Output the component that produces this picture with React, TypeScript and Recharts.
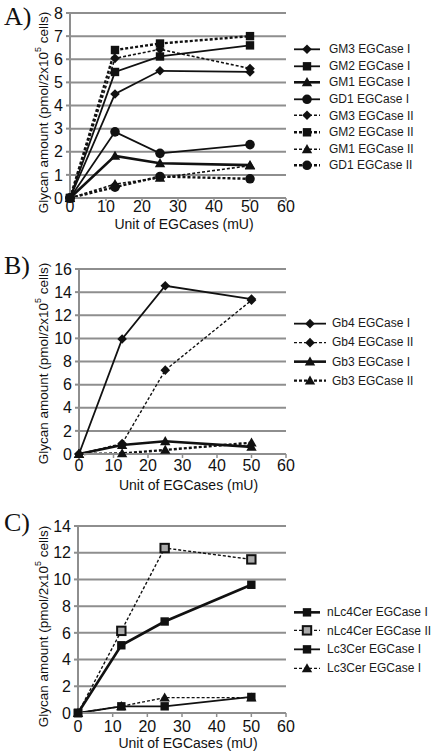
import React from 'react';
import { LineChart, Line, XAxis, YAxis, CartesianGrid, Label } from 'recharts';

// ---------- data ----------
const xUnits = [0, 12.5, 25, 50];
const xTicks = [0, 10, 20, 30, 40, 50, 60];

// Panel A (gangliosides)
const gm3I = [0, 4.5, 5.5, 5.45];
const gm2I = [0, 5.45, 6.12, 6.6];
const gm1I = [0, 1.82, 1.5, 1.42];
const gd1I = [0, 2.86, 1.93, 2.31];
const gm3II = [0, 6.04, 6.43, 5.6];
const gm2II = [0, 6.4, 6.68, 7.0];
const gm1II = [0, 0.6, 0.87, 1.4];
const gd1II = [0, 0.47, 0.93, 0.83];
const yTicksA = [0, 1, 2, 3, 4, 5, 6, 7, 8];

// Panel B (globo-series)
const gb4I = [0, 9.95, 14.55, 13.4];
const gb4II = [0, 0.9, 7.25, 13.3];
const gb3I = [0, 0.78, 1.1, 0.62];
const gb3II = [0, 0.05, 0.35, 0.98];
const yTicksB = [0, 2, 4, 6, 8, 10, 12, 14, 16];

// Panel C (lacto-series)
const nlc4I = [0, 5.07, 6.85, 9.6];
const nlc4II = [0, 6.15, 12.35, 11.5];
const lc3I = [0, 0.5, 0.5, 1.2];
const lc3II = [0, 0.5, 1.15, 1.15];
const yTicksC = [0, 2, 4, 6, 8, 10, 12, 14];

const xLabel = 'Unit of EGCases (mU)';

type Series = {
  key: string;
  name: string;
  values: number[];
  shape: 'diamond' | 'square' | 'triangle' | 'circle';
  dashed: boolean;
  width: number;
  hollow?: boolean;
};

const seriesA: Series[] = [
  { key: 'gm3I', name: 'GM3 EGCase I', values: gm3I, shape: 'diamond', dashed: false, width: 1.8 },
  { key: 'gm2I', name: 'GM2 EGCase I', values: gm2I, shape: 'square', dashed: false, width: 1.8 },
  { key: 'gm1I', name: 'GM1 EGCase I', values: gm1I, shape: 'triangle', dashed: false, width: 2.6 },
  { key: 'gd1I', name: 'GD1 EGCase I', values: gd1I, shape: 'circle', dashed: false, width: 1.8 },
  { key: 'gm3II', name: 'GM3 EGCase II', values: gm3II, shape: 'diamond', dashed: true, width: 1.6 },
  { key: 'gm2II', name: 'GM2 EGCase II', values: gm2II, shape: 'square', dashed: true, width: 2.4 },
  { key: 'gm1II', name: 'GM1 EGCase II', values: gm1II, shape: 'triangle', dashed: true, width: 1.6 },
  { key: 'gd1II', name: 'GD1 EGCase II', values: gd1II, shape: 'circle', dashed: true, width: 2.4 },
];

const seriesB: Series[] = [
  { key: 'gb4I', name: 'Gb4 EGCase I', values: gb4I, shape: 'diamond', dashed: false, width: 1.8 },
  { key: 'gb4II', name: 'Gb4 EGCase II', values: gb4II, shape: 'diamond', dashed: true, width: 1.4 },
  { key: 'gb3I', name: 'Gb3 EGCase I', values: gb3I, shape: 'triangle', dashed: false, width: 2.6 },
  { key: 'gb3II', name: 'Gb3 EGCase II', values: gb3II, shape: 'triangle', dashed: true, width: 2.4 },
];

const seriesC: Series[] = [
  { key: 'nlc4I', name: 'nLc4Cer EGCase I', values: nlc4I, shape: 'square', dashed: false, width: 2.6 },
  { key: 'nlc4II', name: 'nLc4Cer EGCase II', values: nlc4II, shape: 'square', dashed: true, width: 1.4, hollow: true },
  { key: 'lc3I', name: 'Lc3Cer EGCase I', values: lc3I, shape: 'square', dashed: false, width: 1.8 },
  { key: 'lc3II', name: 'Lc3Cer EGCase I', values: lc3II, shape: 'triangle', dashed: true, width: 1.4 },
];

const buildRows = (series: Series[]) =>
  xUnits.map((x, i) => {
    const row: Record<string, number> = { x };
    series.forEach((s) => {
      row[s.key] = s.values[i];
    });
    return row;
  });

// ---------- drawing helpers ----------
const INK = '#111';
const GRID = '#8e8e8e';
const FONT = '"Liberation Sans", Arial, sans-serif';

function Marker({ cx, cy, shape, hollow }: { cx: number; cy: number; shape: string; hollow?: boolean }) {
  if (cx == null || cy == null) return null;
  if (shape === 'diamond') {
    const r = 4.8;
    return <polygon points={`${cx},${cy - r} ${cx + r},${cy} ${cx},${cy + r} ${cx - r},${cy}`} fill={INK} />;
  }
  if (shape === 'square') {
    const s = 4.2;
    return (
      <rect
        x={cx - s}
        y={cy - s}
        width={2 * s}
        height={2 * s}
        fill={hollow ? '#aaa' : INK}
        stroke={INK}
        strokeWidth={hollow ? 2 : 0}
      />
    );
  }
  if (shape === 'triangle') {
    const r = 5.2;
    return <polygon points={`${cx},${cy - r} ${cx + r},${cy + r * 0.75} ${cx - r},${cy + r * 0.75}`} fill={INK} />;
  }
  return <circle cx={cx} cy={cy} r={4.8} fill={INK} />;
}

function LegendBox({ series, row, lineW, textGap }: { series: Series[]; row: number; lineW: number; textGap: number }) {
  return (
    <div style={{ fontFamily: FONT, fontSize: 12, color: '#1a1a1a' }}>
      {series.map((s, i) => (
        <div key={s.key + i} style={{ height: row, display: 'flex', alignItems: 'center' }}>
          <svg width={lineW} height={row} style={{ display: 'block' }}>
            <line
              x1={0}
              x2={lineW}
              y1={row / 2}
              y2={row / 2}
              stroke={INK}
              strokeWidth={s.width}
              strokeDasharray={s.dashed ? '3 2' : undefined}
            />
            <Marker cx={lineW / 2} cy={row / 2} shape={s.shape} hollow={s.hollow} />
          </svg>
          <span style={{ marginLeft: textGap, whiteSpace: 'nowrap' }}>{s.name}</span>
        </div>
      ))}
    </div>
  );
}

type PanelProps = {
  letter: string;
  top: number;
  height: number;
  plotLeft: number;
  plotTop: number;
  plotBottom: number;
  yTicks: number[];
  series: Series[];
  legendTop: number;
  legendRow: number;
  legendLineW: number;
  legendGap: number;
  letterTop: number;
  yLabelDy: number;
  xLabelDy: number;
  xTickSize: number;
  xTickMargin: number;
};

function YLabel(props: any) {
  const { viewBox, dy } = props;
  const cx = 43;
  const cy = viewBox.y + viewBox.height / 2 + dy;
  return (
    <text
      x={cx}
      y={cy}
      transform={`rotate(-90 ${cx} ${cy})`}
      textAnchor="middle"
      dominantBaseline="central"
      fontFamily={FONT}
      fontSize={13.5}
      fill="#111"
    >
      Glycan amount (pmol/2x10
      <tspan fontSize={9} dy={-5}>
        5
      </tspan>
      <tspan dy={5}> cells)</tspan>
    </text>
  );
}

function XLabel(props: any) {
  const { viewBox, dy } = props;
  const cx = viewBox.x + viewBox.width / 2 + 6;
  const cy = viewBox.y + dy;
  return (
    <text x={cx} y={cy} textAnchor="middle" dominantBaseline="central" fontFamily={FONT} fontSize={14} fill="#111">
      {xLabel}
    </text>
  );
}

function Panel(p: PanelProps) {
  const xAxisH = 36;
  const plotRight = 286;
  const data = buildRows(p.series);
  return (
    <div style={{ position: 'absolute', left: 0, top: p.top, width: 432, height: p.height }}>
      <div
        style={{
          position: 'absolute',
          left: 4,
          top: p.letterTop,
          fontFamily: '"Liberation Serif", "Times New Roman", serif',
          fontSize: 26,
          lineHeight: '26px',
          color: '#111',
          zIndex: 2,
        }}
      >
        {p.letter}
      </div>
      <LineChart
        width={432}
        height={p.height}
        data={data}
        margin={{ top: p.plotTop, right: 432 - plotRight, bottom: p.height - p.plotBottom - xAxisH, left: 0 }}
      >
        <CartesianGrid vertical={false} stroke={GRID} strokeWidth={2} />
        <XAxis
          dataKey="x"
          type="number"
          domain={[0, 60]}
          ticks={xTicks}
          height={xAxisH}
          axisLine={{ stroke: GRID, strokeWidth: 2 }}
          tickLine={{ stroke: GRID, strokeWidth: 1.5 }}
          tickSize={p.xTickSize}
          tickMargin={p.xTickMargin}
          tick={{ fontFamily: FONT, fontSize: 16, fill: '#111' }}
          interval={0}
        >
          <Label content={(lp: any) => <XLabel {...lp} dy={p.xLabelDy} />} />
        </XAxis>
        <YAxis
          type="number"
          domain={[p.yTicks[0], p.yTicks[p.yTicks.length - 1]]}
          ticks={p.yTicks}
          width={p.plotLeft}
          interval={0}
          axisLine={{ stroke: GRID, strokeWidth: 2 }}
          tickLine={{ stroke: GRID, strokeWidth: 2 }}
          tickSize={4}
          tickMargin={3}
          tick={{ fontFamily: FONT, fontSize: 16, fill: '#111' }}
        >
          <Label content={(lp: any) => <YLabel {...lp} dy={p.yLabelDy} />} />
        </YAxis>
        {p.series.map((s) => (
          <Line
            key={s.key}
            dataKey={s.key}
            name={s.name}
            stroke={INK}
            strokeWidth={s.width}
            strokeDasharray={s.dashed ? '3 2' : undefined}
            isAnimationActive={false}
            dot={(d: any) => (
              <g key={`${s.key}-${d.index}`}>
                <Marker cx={d.cx} cy={d.cy} shape={s.shape} hollow={s.hollow && d.index > 0} />
              </g>
            )}
            activeDot={false}
          />
        ))}
      </LineChart>
      <div style={{ position: 'absolute', left: 294, top: p.legendTop, width: 140 }}>
        <LegendBox series={p.series} row={p.legendRow} lineW={p.legendLineW} textGap={p.legendGap} />
      </div>
    </div>
  );
}

export default function App() {
  return (
    <div style={{ position: 'absolute', left: 0, top: 0, width: 432, height: 752, background: '#fff', overflow: 'hidden' }}>
      <Panel
        letter="A)"
        top={0}
        height={250}
        plotLeft={70}
        plotTop={13}
        plotBottom={198}
        yTicks={yTicksA}
        series={seriesA}
        legendTop={41}
        legendRow={16.6}
        legendLineW={26}
        legendGap={9}
        letterTop={4}
        yLabelDy={7}
        xLabelDy={26}
        xTickSize={3}
        xTickMargin={0}
      />
      <Panel
        letter="B)"
        top={250}
        height={245}
        plotLeft={79}
        plotTop={19}
        plotBottom={204}
        yTicks={yTicksB}
        series={seriesB}
        legendTop={63.5}
        legendRow={19.3}
        legendLineW={32}
        legendGap={6}
        letterTop={3}
        yLabelDy={2}
        xLabelDy={31}
        xTickSize={4}
        xTickMargin={2}
      />
      <Panel
        letter="C)"
        top={490}
        height={262}
        plotLeft={78}
        plotTop={36}
        plotBottom={223}
        yTicks={yTicksC}
        series={seriesC}
        legendTop={112.6}
        legendRow={18.7}
        legendLineW={26}
        legendGap={7}
        letterTop={20}
        yLabelDy={7}
        xLabelDy={30}
        xTickSize={4}
        xTickMargin={4}
      />
    </div>
  );
}
